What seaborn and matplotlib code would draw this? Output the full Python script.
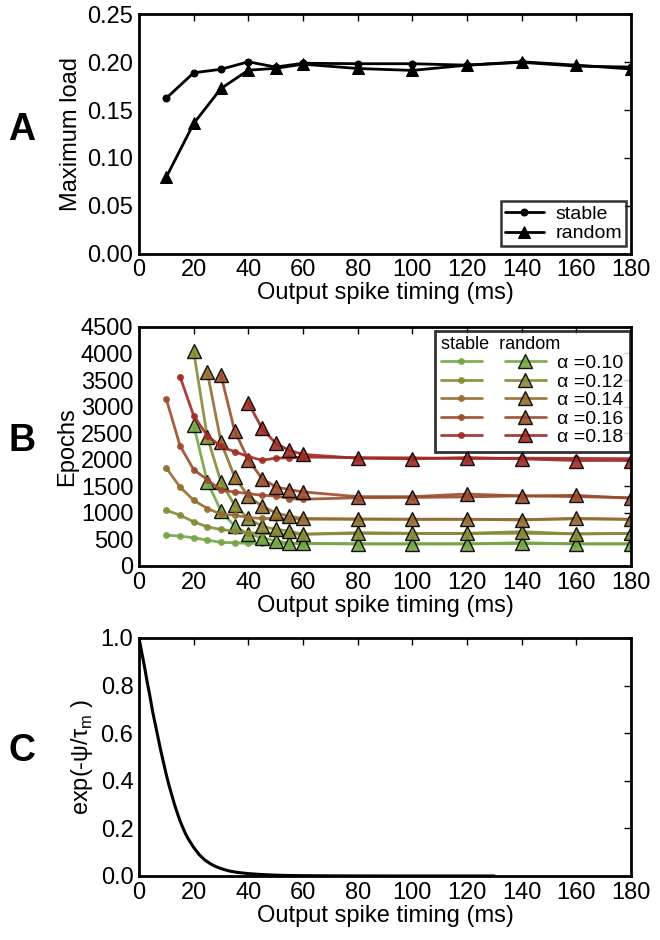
import numpy as np
import pandas as pd
import matplotlib
matplotlib.use('Agg')
import matplotlib.pyplot as plt
from matplotlib.legend_handler import HandlerTuple
import seaborn as sns

# ---- Panel A: maximum load ----
timing_a = [10, 20, 30, 40, 50, 60, 80, 100, 120, 140, 160, 180]
load_stable = [0.1625, 0.189, 0.1927, 0.2005, 0.195, 0.199, 0.1985, 0.1985, 0.197, 0.2, 0.196, 0.195]
load_random = [0.080, 0.136, 0.1726, 0.1917, 0.1937, 0.198, 0.1935, 0.1915, 0.197, 0.2005, 0.197, 0.193]

# ---- Panel B: epochs ----
alphas = ['0.10', '0.12', '0.14', '0.16', '0.18']
colors = ['#74a545', '#868a36', '#936d30', '#9a4c2c', '#a02a26']

timing_b = [10, 15, 20, 25, 30, 35, 40, 45, 50, 55, 60, 80, 100, 120, 140, 160, 180]
stable_010 = [581, 562, 531, 487, 444, 437, 425, 425, 425, 420, 419, 418, 418, 418, 420, 418, 418]
stable_012 = [1050, 956, 831, 737, 687, 656, 625, 612, 610, 600, 600, 612, 610, 610, 615, 605, 610]
stable_014 = [1844, 1487, 1237, 1081, 975, 956, 912, 894, 894, 890, 881, 880, 880, 880, 875, 885, 878]
stable_016 = [3140, 2265, 1812, 1625, 1425, 1394, 1362, 1330, 1319, 1269, 1256, 1285, 1290, 1300, 1320, 1305, 1285]
stable_018 = [None, 3566, 2829, 2450, 2250, 2150, 2060, 1990, 2030, 2035, 2050, 2040, 2035, 2020, 2030, 2025, 2020]

random_010 = [None, None, 2655, 1581, 1037, 750, 600, 530, 475, 430, 428, 414, 414, 414, 439, 414, 414]
random_012 = [None, None, 4040, 2425, 1581, 1144, 894, 750, 690, 656, 596, 628, 615, 615, 646, 603, 615]
random_014 = [None, None, None, 3647, 2330, 1675, 1312, 1125, 1000, 937, 894, 885, 879, 879, 866, 898, 879]
random_016 = [None, None, None, None, 3590, 2540, 2000, 1644, 1490, 1437, 1394, 1305, 1305, 1355, 1318, 1330, 1274]
random_018 = [None, None, None, None, None, None, 3070, 2590, 2310, 2175, 2100, 2028, 2016, 2041, 2016, 1985, 1985]

stable_b = [stable_010, stable_012, stable_014, stable_016, stable_018]
random_b = [random_010, random_012, random_014, random_016, random_018]

# ---- Panel C: exp(-psi/tau_m) ----
timing_c = [0, 1, 2, 3, 4, 5, 6, 7, 8, 9, 10, 11, 12, 13, 14, 15, 16, 17, 18, 20, 22, 24,
            26, 28, 30, 33, 36, 40, 45, 50, 55, 60, 70, 80, 100, 130]
decay_c = [1.0, 0.94, 0.88, 0.815, 0.755, 0.69, 0.635, 0.58, 0.525, 0.475, 0.425, 0.38,
           0.34, 0.30, 0.265, 0.232, 0.204, 0.178, 0.156, 0.12, 0.09, 0.068, 0.052, 0.04,
           0.031, 0.021, 0.015, 0.01, 0.006, 0.0035, 0.002, 0.0013, 0.0005, 0.0002, 0.0, 0.0]

sns.set_theme(style='white')
plt.rcParams['font.family'] = ['Liberation Sans', 'DejaVu Sans']
plt.rcParams.update({
    'xtick.direction': 'in', 'ytick.direction': 'in',
    'xtick.top': True, 'ytick.right': True,
    'xtick.major.size': 5, 'ytick.major.size': 5,
    'xtick.major.width': 1.0, 'ytick.major.width': 1.0,
    'xtick.color': 'black', 'ytick.color': 'black',
    'xtick.labelsize': 17, 'ytick.labelsize': 17,
    'axes.labelsize': 17, 'axes.edgecolor': 'black',
    'axes.linewidth': 2.0, 'text.color': 'black', 'axes.labelcolor': 'black',
})

fig = plt.figure(figsize=(6.6, 9.4), dpi=100)
ax_a = fig.add_axes([0.2106, 0.7303, 0.7455, 0.2543])
ax_b = fig.add_axes([0.2106, 0.3979, 0.7455, 0.2543])
ax_c = fig.add_axes([0.2106, 0.0681, 0.7455, 0.2532])

# Panel A
sns.lineplot(x=timing_a, y=load_stable, ax=ax_a, color='black', lw=2, marker='o',
             markersize=5, markeredgecolor='black', label='stable')
sns.lineplot(x=timing_a, y=load_random, ax=ax_a, color='black', lw=2, marker='^',
             markersize=9, markeredgecolor='black', label='random')
ax_a.set_ylim(0, 0.25)
ax_a.set_yticks(np.arange(0, 0.26, 0.05))
ax_a.set_yticklabels([f'{v:.2f}' for v in np.arange(0, 0.26, 0.05)])
ax_a.set_ylabel('Maximum load')
leg_a = ax_a.legend(loc='lower right', fontsize=14, frameon=True, fancybox=False,
                    edgecolor='black', handlelength=2.0, borderpad=0.2, labelspacing=0.1,
                    handletextpad=0.6, borderaxespad=0.0, bbox_to_anchor=(0.99, 0.03))
leg_a.get_frame().set_linewidth(1.8)

# Panel B
handles = []
for i, a in enumerate(alphas):
    df_s = pd.DataFrame({'t': timing_b, 'v': stable_b[i]}).dropna()
    df_r = pd.DataFrame({'t': timing_b, 'v': random_b[i]}).dropna()
    sns.lineplot(data=df_s, x='t', y='v', ax=ax_b, color=colors[i], lw=2, alpha=0.9,
                 marker='o', markersize=5, markeredgewidth=0, estimator=None, sort=False)
    sns.lineplot(data=df_r, x='t', y='v', ax=ax_b, color=colors[i], lw=2, alpha=0.9,
                 marker='^', markersize=10, markeredgecolor='black', markeredgewidth=1,
                 markerfacecolor=colors[i], estimator=None, sort=False)
    hs = ax_b.lines[-2]
    hr = ax_b.lines[-1]
    handles.append(((hs, hr), 'α =' + a))

leg_b = ax_b.legend([h for h, _ in handles], [l for _, l in handles],
                    handler_map={tuple: HandlerTuple(ndivide=None, pad=1.2)},
                    loc='upper right', fontsize=14, title='stable  random',
                    title_fontsize=13, alignment='left', frameon=True, fancybox=False,
                    edgecolor='black', handlelength=5.4, labelspacing=0.05,
                    borderpad=0.3, handletextpad=0.6, borderaxespad=0.0,
                    bbox_to_anchor=(0.997, 0.985))
leg_b.get_frame().set_linewidth(2)
ax_b.set_ylim(0, 4500)
ax_b.set_yticks(np.arange(0, 4501, 500))
ax_b.set_ylabel('Epochs', labelpad=2)

# Panel C
sns.lineplot(x=timing_c, y=decay_c, ax=ax_c, color='black', lw=2.2, estimator=None, sort=False)
ax_c.set_ylim(0, 1.0)
ax_c.set_yticks(np.arange(0, 1.01, 0.2))
ax_c.set_yticklabels([f'{v:.1f}' for v in np.arange(0, 1.01, 0.2)])
ax_c.set_ylabel(r'exp(-ψ/τ$_\mathregular{m}$ )')

for ax in (ax_a, ax_b, ax_c):
    ax.set_xlim(0, 180)
    ax.set_xticks(np.arange(0, 181, 20))
    ax.set_xlabel('Output spike timing (ms)', labelpad=1)
    ax.tick_params(pad=4)
    for s in ax.spines.values():
        s.set_visible(True)
        s.set_linewidth(2)

for letter, y in (('A', 0.862), ('B', 0.531), ('C', 0.201)):
    fig.text(0.033, y, letter, fontsize=27, fontweight='bold', ha='center', va='center')

fig.savefig('out.png', dpi=100)
